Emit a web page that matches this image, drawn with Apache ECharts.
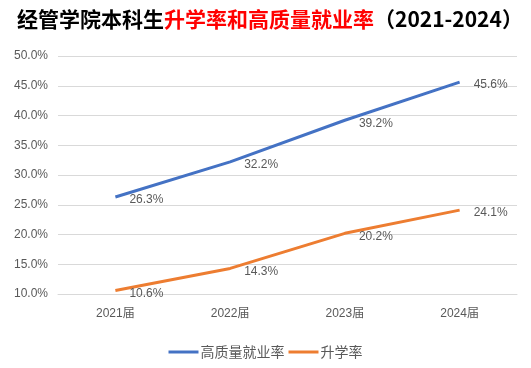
<!DOCTYPE html>
<html>
<head>
<meta charset="utf-8">
<script src="https://cdn.jsdelivr.net/npm/echarts@6/dist/echarts.min.js"></script>
<style>html,body{margin:0;padding:0;background:#fff;}#c{width:531px;height:368px;}</style>
</head>
<body>
<div id="c"></div>
<script>
var categories = ['2021届', '2022届', '2023届', '2024届'];
var employmentRate = [26.3, 32.2, 39.2, 45.6];
var furtherStudyRate = [10.6, 14.3, 20.2, 24.1];
var seriesNames = ['高质量就业率', '升学率'];
var titleParts = ['经管学院本科生', '升学率和高质量就业率', '（2021-2024）'];

var chart = echarts.init(document.getElementById('c'), null, {renderer: 'canvas'});
var labelFont = 'Liberation Sans, Noto Sans CJK SC, sans-serif';
function pct(v) { return Number(v).toFixed(1) + '%'; }
function seriesLabel() {
  return {show: true, position: 'right', distance: 14, offset: [0, 3], color: '#595959', fontSize: 12,
          fontFamily: labelFont, formatter: function(p){return pct(p.value);}};
}
chart.setOption({
  animation: false,
  backgroundColor: '#ffffff',
  title: {
    text: '{a|' + titleParts[0] + '}{b|' + titleParts[1] + '}{a|' + titleParts[2] + '}',
    left: 12,
    top: 4,
    textStyle: {
      rich: {
        a: {fontSize: 21, fontWeight: 'bold', color: '#000000', fontFamily: 'Noto Sans CJK SC'},
        b: {fontSize: 21, fontWeight: 'bold', color: '#ff0000', fontFamily: 'Noto Sans CJK SC'}
      }
    }
  },
  legend: {
    data: seriesNames,
    bottom: 4,
    left: 'center',
    itemWidth: 30,
    itemHeight: 3,
    itemGap: 4,
    icon: 'rect',
    textStyle: {fontSize: 14, color: '#595959', fontFamily: 'Noto Sans CJK SC', padding: [0, 0, 0, -3]}
  },
  grid: {left: 58, right: 14, top: 56, bottom: 74},
  xAxis: {
    type: 'category',
    data: categories,
    boundaryGap: true,
    axisLine: {show: true, lineStyle: {color: '#d9d9d9'}},
    axisTick: {show: false},
    axisLabel: {color: '#595959', fontSize: 12, margin: 14, fontFamily: labelFont}
  },
  yAxis: {
    type: 'value',
    min: 10,
    max: 50,
    interval: 5,
    axisLine: {show: false},
    axisTick: {show: false},
    axisLabel: {color: '#595959', fontSize: 12, margin: 10, fontFamily: labelFont, formatter: pct},
    splitLine: {lineStyle: {color: '#d9d9d9', width: 1}}
  },
  series: [
    {
      name: seriesNames[0],
      type: 'line',
      data: employmentRate,
      symbol: 'circle',
      symbolSize: 0.01,
      showSymbol: true,
      lineStyle: {color: '#4472C4', width: 3},
      itemStyle: {color: '#4472C4'},
      label: seriesLabel()
    },
    {
      name: seriesNames[1],
      type: 'line',
      data: furtherStudyRate,
      symbol: 'circle',
      symbolSize: 0.01,
      showSymbol: true,
      lineStyle: {color: '#ED7D31', width: 3},
      itemStyle: {color: '#ED7D31'},
      label: seriesLabel()
    }
  ]
});
</script>
</body>
</html>
